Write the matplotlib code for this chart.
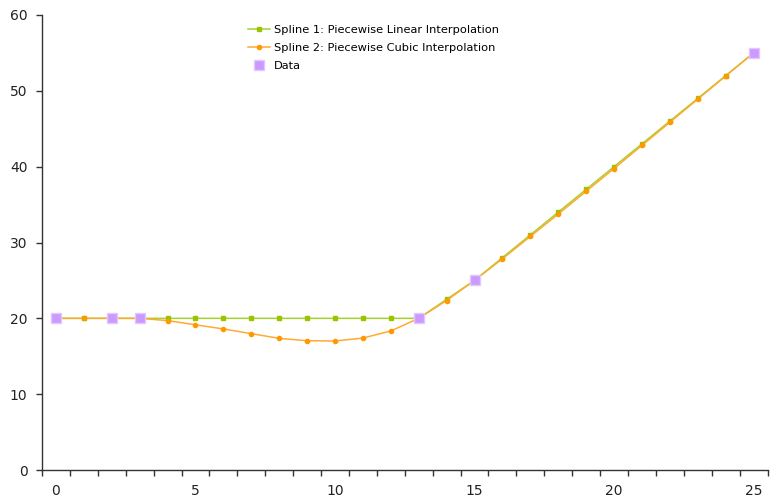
import matplotlib
matplotlib.use("Agg")
import matplotlib.pyplot as plt
from matplotlib.ticker import MultipleLocator, FixedLocator

x_grid = list(range(26))
linear_y = [20, 20, 20, 20, 20, 20, 20, 20, 20, 20, 20, 20, 20, 20,
            22.5, 25, 28, 31, 34, 37, 40, 43, 46, 49, 52, 55]
cubic_y = [20, 20, 20, 20, 19.7, 19.15, 18.6, 17.98, 17.36, 17.05, 17.01, 17.4,
           18.33, 20, 22.35, 25, 27.85, 30.8, 33.75, 36.75, 39.75, 42.8, 45.85,
           48.9, 51.95, 55]
data_x = [0, 2, 3, 13, 15, 25]
data_y = [20, 20, 20, 20, 25, 55]

axis_color = "#333333"

fig = plt.figure(figsize=(7.7, 5.03), dpi=100)
ax = fig.add_axes([42 / 770, 33 / 503, (767.5 - 42) / 770, (470 - 15) / 503])

ax.plot(x_grid, linear_y, color="#a6d22e", lw=1.1, marker="s", ms=3,
        mfc="#99c400", mec="#99c400", label="Spline 1: Piecewise Linear Interpolation", zorder=2)
ax.plot(x_grid, cubic_y, color="#ffaa33", lw=1.1, marker="o", ms=3,
        mfc="#ff9900", mec="#ff9900", label="Spline 2: Piecewise Cubic Interpolation", zorder=3)
ax.plot(data_x, data_y, ls="none", marker="s", ms=6.5, mfc="#cc99ff",
        mec="#e0c8ff", mew=1, label="Data", zorder=4)

ax.set_xlim(-0.5, 25.5)
ax.set_ylim(0, 60)

ax.xaxis.set_major_locator(FixedLocator([0, 5, 10, 15, 20, 25]))
ax.xaxis.set_minor_locator(FixedLocator([k + 0.5 for k in range(-1, 26)]))
ax.yaxis.set_major_locator(MultipleLocator(10))

ax.tick_params(axis="x", which="major", length=0, pad=10, labelsize=10, labelcolor="#222222")
ax.tick_params(axis="x", which="minor", length=4.5, width=1, color=axis_color, direction="out")
ax.tick_params(axis="y", which="major", length=4.5, width=1, color=axis_color,
               pad=6, labelsize=10, labelcolor="#222222")

for side in ("top", "right"):
    ax.spines[side].set_visible(False)
for side in ("left", "bottom"):
    ax.spines[side].set_color(axis_color)
    ax.spines[side].set_linewidth(1)

ax.legend(loc="upper left", bbox_to_anchor=(0.27, 1.0), frameon=False, fontsize=8.2,
          handlelength=2.0, handletextpad=0.35, labelspacing=0.72, borderaxespad=0.45)

fig.savefig("out.png", dpi=100)
